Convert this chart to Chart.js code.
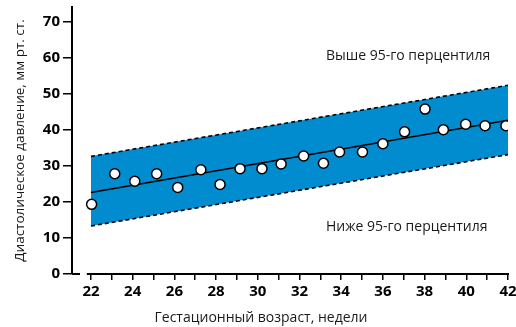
<!DOCTYPE html>
<html><head><meta charset="utf-8">
<script src="https://cdn.jsdelivr.net/npm/chart.js@4"></script>
<style>html,body{margin:0;padding:0;background:#fff}</style>
</head><body>
<canvas id="c" width="516" height="327"></canvas>
<script>
const weeks = [22.03, 23.14, 24.10, 25.15, 26.16, 27.27, 28.19, 29.15, 30.2, 31.12, 32.2, 33.15, 33.92, 35.02, 36.0, 37.04, 38.02, 38.9, 39.97, 40.9, 41.9];
const pressure = [19.3, 27.8, 25.7, 27.8, 24.0, 28.9, 24.8, 29.2, 29.2, 30.5, 32.7, 30.7, 33.8, 33.8, 36.1, 39.4, 45.7, 40.0, 41.5, 41.1, 41.1];
const fitWeeks = [22, 42];
const fitLine = [22.6, 42.6];
const upper95 = [32.6, 52.3];
const lower95 = [13.3, 33.1];
const yTicks = [0, 10, 20, 30, 40, 50, 60, 70];
const xTicks = [22, 23, 24, 25, 26, 27, 28, 29, 30, 31, 32, 33, 34, 35, 36, 37, 38, 39, 40, 41, 42];
const xLabels = [22, 24, 26, 28, 30, 32, 34, 36, 38, 40, 42];
const xTitle = 'Гестационный возраст, недели';
const yTitle = 'Диастолическое давление, мм рт. ст.';
const aboveText = 'Выше 95-го перцентиля';
const belowText = 'Ниже 95-го перцентиля';

const toXY = (xs, ys) => xs.map((x, i) => ({x: x, y: ys[i]}));
const FONT = '"Open Sans", "DejaVu Sans", sans-serif';
const BAND = 'rgb(0,140,206)';

const extras = {
  id: 'extras',
  afterDraw(chart) {
    const ctx = chart.ctx, xs = chart.scales.x;
    const ca = chart.chartArea;
    ctx.save();
    ctx.strokeStyle = '#000';
    ctx.lineWidth = 2;
    ctx.beginPath();
    ctx.moveTo(xs.getPixelForValue(21.8), ca.bottom);
    ctx.lineTo(xs.getPixelForValue(42) + 1, ca.bottom);
    ctx.moveTo(ca.left, ca.bottom);
    ctx.lineTo(ca.left + 8, ca.bottom);
    ctx.stroke();
    ctx.fillStyle = '#1a1a1a';
    ctx.font = '14px ' + FONT;
    ctx.textBaseline = 'middle';
    ctx.textAlign = 'left';
    ctx.fillText(aboveText, 326, 56);
    ctx.fillText(belowText, 326, 227);
    ctx.textAlign = 'center';
    ctx.fillText(xTitle, 261, 318);
    ctx.restore();
  }
};

new Chart(document.getElementById('c'), {
  type: 'scatter',
  data: {
    datasets: [
      { data: toXY(weeks, pressure), pointRadius: 5, pointBackgroundColor: '#fff', pointBorderColor: '#000', pointBorderWidth: 1.5, showLine: false },
      { data: toXY(fitWeeks, fitLine), showLine: true, pointRadius: 0, borderColor: '#000', borderWidth: 1.5, fill: false },
      { data: toXY(fitWeeks, upper95), showLine: true, pointRadius: 0, borderColor: '#000', borderWidth: 1.6, borderDash: [4, 3], fill: '+1', backgroundColor: BAND },
      { data: toXY(fitWeeks, lower95), showLine: true, pointRadius: 0, borderColor: '#000', borderWidth: 1.6, borderDash: [4, 3], fill: false }
    ]
  },
  options: {
    responsive: false,
    animation: false,
    events: [],
    layout: { padding: { top: 7, right: 8, left: 0, bottom: 0 } },
    plugins: { legend: { display: false }, tooltip: { enabled: false }, filler: { drawTime: 'beforeDatasetsDraw' } },
    scales: {
      x: {
        type: 'linear', min: 21.09, max: 42,
        afterBuildTicks: s => { s.ticks = xTicks.map(v => ({value: v})); },
        afterFit: s => { s.height = 53; s.paddingLeft = 0; s.paddingRight = 0; },
        ticks: { autoSkip: false, maxRotation: 0, padding: 3, color: '#000', font: { family: FONT, size: 15, weight: 'bold' },
          callback: v => xLabels.includes(v) ? String(v) : '' },
        grid: { drawOnChartArea: false, tickLength: 6, color: '#000', lineWidth: 1.5 },
        border: { display: false }
      },
      y: {
        min: 0, max: 74,
        afterBuildTicks: s => { s.ticks = yTicks.map(v => ({value: v})); },
        afterFit: s => { s.width = 72; s.paddingTop = 0; s.paddingBottom = 0; },
        ticks: { padding: 3, color: '#000', font: { family: FONT, size: 15, weight: 'bold' } },
        grid: { drawOnChartArea: false, tickLength: 9, color: '#000', lineWidth: 1.5 },
        border: { display: true, color: '#000', width: 2 },
        title: { display: true, text: yTitle, color: '#1a1a1a', font: { family: FONT, size: 13.5 }, padding: { top: 12, bottom: 0 } }
      }
    }
  },
  plugins: [extras]
});
</script>
</body></html>
